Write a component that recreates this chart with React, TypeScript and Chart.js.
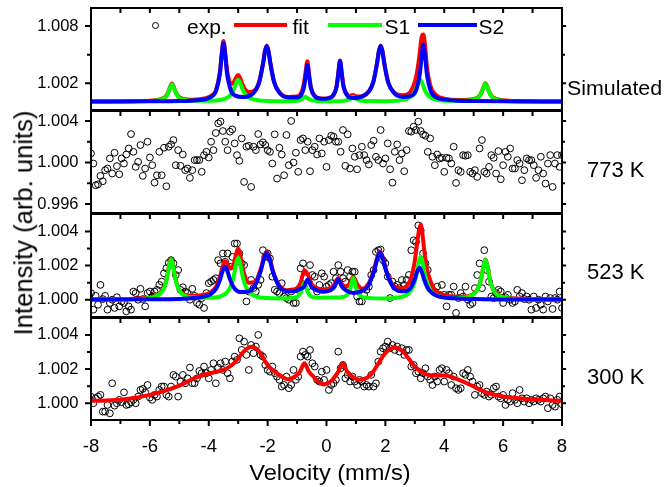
import React, { useEffect, useRef } from 'react';
import { Chart, registerables } from 'chart.js';

Chart.register(...registerables);

const FONT = '"Liberation Sans", Arial, Helvetica, sans-serif';

// Velocity channels (mm/s) shared by the three measured spectra
const velocity = [
  -8, -7.92, -7.84, -7.76, -7.68, -7.6, -7.52, -7.44, -7.36, -7.28,
  -7.2, -7.12, -7.04, -6.96, -6.88, -6.8, -6.72, -6.64, -6.56, -6.48,
  -6.4, -6.32, -6.24, -6.16, -6.08, -6, -5.92, -5.84, -5.76, -5.68,
  -5.6, -5.52, -5.44, -5.36, -5.28, -5.2, -5.12, -5.04, -4.96, -4.88,
  -4.8, -4.72, -4.64, -4.56, -4.48, -4.4, -4.32, -4.24, -4.16, -4.08,
  -4, -3.92, -3.84, -3.76, -3.68, -3.6, -3.52, -3.44, -3.36, -3.28,
  -3.2, -3.12, -3.04, -2.96, -2.88, -2.8, -2.72, -2.64, -2.56, -2.48,
  -2.4, -2.32, -2.24, -2.16, -2.08, -2, -1.92, -1.84, -1.76, -1.68,
  -1.6, -1.52, -1.44, -1.36, -1.28, -1.2, -1.12, -1.04, -0.96, -0.88,
  -0.8, -0.72, -0.64, -0.56, -0.48, -0.4, -0.32, -0.24, -0.16, -0.08,
  0, 0.08, 0.16, 0.24, 0.32, 0.4, 0.48, 0.56, 0.64, 0.72,
  0.8, 0.88, 0.96, 1.04, 1.12, 1.2, 1.28, 1.36, 1.44, 1.52,
  1.6, 1.68, 1.76, 1.84, 1.92, 2, 2.08, 2.16, 2.24, 2.32,
  2.4, 2.48, 2.56, 2.64, 2.72, 2.8, 2.88, 2.96, 3.04, 3.12,
  3.2, 3.28, 3.36, 3.44, 3.52, 3.6, 3.68, 3.76, 3.84, 3.92,
  4, 4.08, 4.16, 4.24, 4.32, 4.4, 4.48, 4.56, 4.64, 4.72,
  4.8, 4.88, 4.96, 5.04, 5.12, 5.2, 5.28, 5.36, 5.44, 5.52,
  5.6, 5.68, 5.76, 5.84, 5.92, 6, 6.08, 6.16, 6.24, 6.32,
  6.4, 6.48, 6.56, 6.64, 6.72, 6.8, 6.88, 6.96, 7.04, 7.12,
  7.2, 7.28, 7.36, 7.44, 7.52, 7.6, 7.68, 7.76, 7.84, 7.92,
  8,
];

// Measured intensities, given as (I - 1) x 1000
const exp773 = [
  0.87, -0.10, -2.19, -2.10, -1.29, -1.81, -0.74, -0.58, 0.39, -1.06,
  0.94, -0.35, -1.13, 0.39, -0.10, 0.77, 1.35, 2.74, 1.03, -0.42,
  0.06, 1.68, -1.29, -0.58, 2.00, 0.48, -0.26, -1.94, -1.23, 1.03,
  -1.23, 1.42, -2.29, 1.52, 1.74, 2.16, -0.26, 1.19, -0.32, 0.77,
  -0.74, -0.58, -1.48, -0.74, 0.23, 0.23, 0.23, -0.90, 0.71, 1.03,
  0.48, 2.00, 1.19, 2.84, 3.77, 3.94, 3.03, 2.00, 1.19, 2.97,
  3.19, 1.84, 0.71, 0.16, 2.32, -1.87, 1.52, 1.61, -2.35, 1.52,
  1.19, 2.74, 1.74, 1.94, 1.68, 1.19, 1.03, -0.10, 2.71, -1.55,
  1.42, 0.77, -1.23, 2.65, -0.26, 4.00, 0.00, 0.94, -0.90, 2.16,
  2.32, 1.19, 2.00, -0.84, 1.19, 1.52, 0.77, 2.32, 0.87, 2.00,
  -0.42, 2.16, 2.58, 2.48, 2.00, 2.00, 1.03, 3.13, -0.32, 2.71,
  -0.58, 1.35, 0.55, -0.65, 0.71, 1.52, 0.71, 0.23, -0.19, 1.68,
  2.10, 0.55, 0.23, 3.13, -0.10, 0.39, 1.84, -0.65, -1.94, 1.03,
  1.74, 0.23, 0.87, -0.84, 1.19, 3.03, 2.97, 3.45, 3.13, 3.94,
  3.03, 2.71, 2.58, 1.03, 2.32, 0.55, -0.26, 0.77, 0.39, 0.45,
  -0.90, 0.45, 0.39, -0.10, 1.52, -1.97, -0.74, -0.90, 0.71, 0.65,
  0.71, -0.90, -1.06, -0.74, -1.39, 1.35, 2.16, -0.90, -1.06, -0.42,
  0.71, 0.45, -1.06, 1.10, -1.61, -0.26, 1.03, 0.55, 1.35, -0.58,
  -0.58, 0.23, -0.10, -1.71, -0.74, 0.39, 0.23, 0.23, -0.26, -1.48,
  -0.74, 0.55, -1.06, -2.03, -0.10, 0.71, -2.35, -0.10, 0.71, -0.42,
  0.71,
];

const exp523 = [
  0.39, -0.58, 0.23, -0.29, 0.87, 0.04, 0.23, -0.58, -0.19, 0.00,
  -0.48, 0.15, -0.39, -0.10, -0.19, -0.68, -0.39, -0.58, 0.48, 0.39,
  0.00, 0.64, 0.04, -0.39, 0.39, 0.48, 0.19, 0.48, 0.58, 0.87,
  1.06, 1.55, 1.84, 2.16, 2.32, 2.13, 1.45, 1.74, 0.58, 0.73,
  0.48, 0.39, 0.00, 0.64, 0.23, -0.19, -0.29, 0.10, -0.48, 0.39,
  0.97, 1.06, 1.16, 1.26, 2.32, 2.13, 2.71, 2.22, 2.71, 1.93,
  2.51, 3.29, 3.29, 2.71, 2.13, 2.03, -0.10, 0.48, 1.16, 0.68,
  0.48, 0.87, 1.16, 2.90, 2.51, 2.71, 2.42, 1.35, 0.58, 0.48,
  0.39, 0.97, 0.19, 0.10, 0.00, 0.48, -0.19, -0.19, 0.58, 1.84,
  2.13, 1.26, 0.77, 2.03, 1.45, 1.35, 0.48, 0.87, 1.55, 1.35,
  0.77, 0.87, 0.97, 1.64, 1.26, 2.03, 1.64, 1.26, 1.06, 1.74,
  1.35, 1.64, 1.64, 0.19, -0.10, -0.10, 0.29, 0.58, 0.77, 1.45,
  1.74, 2.80, 2.90, 2.94, 2.32, 2.13, 1.35, 0.10, 1.06, 0.77,
  0.87, 0.68, 1.16, 0.87, 1.16, 1.45, 2.90, 3.48, 3.38, 4.35,
  4.06, 2.71, 2.13, 1.74, 0.68, 0.58, 0.48, 0.77, 0.29, 0.87,
  0.29, -0.39, 0.29, 0.29, 0.77, -0.77, 0.10, 0.39, 0.19, 0.77,
  0.00, -0.29, -0.19, 0.68, 1.45, 2.13, 0.68, 2.90, 1.74, 1.06,
  0.19, 0.10, 0.39, 0.58, 0.48, -0.19, 0.15, 0.29, 0.00, -0.19,
  -0.10, 0.58, 0.19, 0.39, 0.04, 0.19, 0.00, -0.58, 0.19, -0.48,
  0.00, -0.29, -0.58, 0.19, -0.10, 0.10, -0.54, 0.10, 0.00, 0.48,
  -0.48,
];

const exp300 = [
  0.39, 0.00, 0.29, 0.39, 0.49, -0.49, -0.49, -0.10, -0.59, 1.17,
  -0.14, 0.00, 0.20, 0.06, 0.64, -0.10, -0.06, 0.06, 0.20, 0.00,
  0.39, 0.78, 0.84, 0.64, 1.07, 0.33, 0.20, 0.49, 0.39, 0.78,
  0.98, 0.98, 0.49, 0.39, 0.98, 1.66, 1.56, 0.39, 1.27, 1.66,
  1.17, 1.46, 2.09, 1.17, 1.17, 1.46, 1.89, 1.76, 2.15, 1.76,
  1.46, 1.95, 2.34, 1.17, 2.09, 2.34, 1.95, 2.44, 1.76, 1.46,
  2.44, 2.73, 2.54, 3.80, 3.12, 3.61, 2.83, 1.95, 3.41, 2.93,
  3.32, 4.00, 2.83, 2.73, 2.24, 1.95, 1.85, 2.15, 1.76, 1.56,
  1.37, 0.98, 1.07, 1.56, 0.88, 1.07, 1.95, 1.37, 1.56, 2.73,
  3.02, 2.83, 2.73, 3.12, 2.34, 2.15, 1.37, 1.27, 1.85, 1.37,
  1.95, 0.78, 1.07, 1.17, 1.37, 3.02, 2.05, 2.24, 1.46, 1.66,
  1.27, 1.56, 1.27, 1.07, 1.37, 1.27, 0.98, 1.07, 0.98, 1.66,
  0.98, 1.17, 2.44, 3.02, 3.22, 3.32, 3.61, 3.22, 3.41, 3.12,
  3.32, 3.02, 3.22, 2.83, 3.12, 3.12, 2.15, 2.24, 1.76, 1.85,
  1.46, 1.76, 2.05, 1.56, 1.37, 1.07, 1.56, 1.27, 1.95, 2.05,
  1.27, 1.95, 1.76, 1.07, 1.56, 0.88, 0.78, 0.88, 1.76, 1.66,
  1.95, 1.56, 1.27, 0.49, 0.98, 1.07, 0.59, 0.49, 0.68, 0.39,
  0.49, 0.88, 0.98, 0.39, 0.29, 0.49, -0.10, 0.20, 0.10, 0.59,
  0.20, 0.00, 0.78, 0.29, 0.10, 0.29, 0.00, 0.20, 0.10, 0.29,
  0.20, 0.10, 0.29, 0.39, -0.29, 0.29, -0.10, -0.20, 0.20, 0.39,
  -0.06,
];

// Curves: [velocity, (I - 1) x 1000]
const simFit = [
  [-8, 0.10], [-6.5, 0.13], [-5.9, 0.20], [-5.6, 0.36], [-5.45, 0.68], [-5.37, 1.12], [-5.31, 1.65], [-5.25, 1.97],
  [-5.19, 1.64], [-5.13, 1.14], [-5.05, 0.70], [-4.9, 0.40], [-4.6, 0.29], [-4.1, 0.43], [-3.85, 0.83], [-3.75, 1.32],
  [-3.62, 3.21], [-3.56, 5.09], [-3.5, 6.42], [-3.44, 5.21], [-3.38, 3.44], [-3.25, 1.99], [-3.2, 1.96], [-3.12, 2.28],
  [-3.06, 2.68], [-3.0, 2.87], [-2.94, 2.60], [-2.88, 2.09], [-2.8, 1.52], [-2.65, 1.10], [-2.5, 1.15], [-2.3, 2.06],
  [-2.15, 4.22], [-2.09, 5.41], [-2.03, 5.96], [-1.97, 5.40], [-1.91, 4.20], [-1.78, 2.16], [-1.6, 1.06], [-1.3, 0.57],
  [-1.0, 0.61], [-0.85, 1.08], [-0.77, 1.94], [-0.71, 3.21], [-0.65, 4.31], [-0.59, 2.93], [-0.53, 1.62], [-0.4, 0.71],
  [-0.2, 0.42], [-0.05, 0.39], [0.1, 0.50], [0.21, 0.69], [0.34, 1.64], [0.40, 3.02], [0.46, 4.39], [0.52, 3.03],
  [0.58, 1.70], [0.71, 0.80], [0.78, 0.68], [0.9, 0.78], [1.02, 0.62], [1.2, 0.66], [1.45, 1.21], [1.59, 2.16],
  [1.72, 4.18], [1.78, 5.38], [1.84, 5.95], [1.90, 5.39], [1.96, 4.19], [2.09, 2.19], [2.3, 1.04], [2.6, 0.75],
  [2.85, 1.10], [3.04, 2.60], [3.12, 4.04], [3.17, 5.27], [3.23, 6.80], [3.29, 7.10], [3.35, 5.89], [3.41, 3.77],
  [3.54, 1.63], [3.75, 0.70], [4.0, 0.40], [4.5, 0.25], [5.0, 0.34], [5.2, 0.70], [5.28, 1.15], [5.34, 1.67],
  [5.4, 2.00], [5.46, 1.67], [5.52, 1.15], [5.6, 0.70], [5.75, 0.37], [6.1, 0.19], [6.8, 0.12], [8, 0.10],
];

const simS1 = [
  [-8, 0.09], [-6.5, 0.11], [-5.9, 0.16], [-5.6, 0.31], [-5.45, 0.63], [-5.37, 1.07], [-5.31, 1.59], [-5.25, 1.91],
  [-5.19, 1.59], [-5.13, 1.08], [-5.05, 0.63], [-4.9, 0.32], [-4.6, 0.18], [-4.0, 0.17], [-3.6, 0.26], [-3.35, 0.52],
  [-3.2, 1.04], [-3.12, 1.60], [-3.06, 2.10], [-3.0, 2.36], [-2.94, 2.10], [-2.88, 1.60], [-2.8, 1.04], [-2.65, 0.52],
  [-2.4, 0.26], [-2.0, 0.15], [-1.4, 0.13], [-1.0, 0.18], [-0.84, 0.34], [-0.72, 0.60], [-0.6, 0.35], [-0.4, 0.16],
  [0.1, 0.12], [0.6, 0.16], [0.78, 0.34], [0.9, 0.59], [1.02, 0.34], [1.3, 0.14], [2.0, 0.13], [2.6, 0.26],
  [2.83, 0.52], [2.98, 1.04], [3.06, 1.60], [3.12, 2.10], [3.18, 2.36], [3.24, 2.10], [3.30, 1.60], [3.38, 1.04],
  [3.53, 0.52], [3.8, 0.25], [4.4, 0.16], [4.8, 0.19], [5.1, 0.39], [5.2, 0.65], [5.28, 1.10], [5.34, 1.62],
  [5.4, 1.95], [5.46, 1.62], [5.52, 1.10], [5.6, 0.65], [5.75, 0.32], [6.1, 0.15], [6.8, 0.10], [8, 0.09],
];

const simS2 = [
  [-8, 0.09], [-6, 0.11], [-5, 0.14], [-4.5, 0.20], [-4.1, 0.35], [-3.85, 0.73], [-3.75, 1.20], [-3.62, 3.04],
  [-3.56, 4.89], [-3.5, 6.18], [-3.44, 4.91], [-3.38, 3.06], [-3.25, 1.27], [-3.1, 0.71], [-2.8, 0.56], [-2.5, 0.91],
  [-2.3, 1.93], [-2.15, 4.13], [-2.09, 5.33], [-2.03, 5.89], [-1.97, 5.33], [-1.91, 4.13], [-1.78, 2.11], [-1.6, 1.01],
  [-1.3, 0.52], [-1.0, 0.51], [-0.85, 0.84], [-0.77, 1.49], [-0.71, 2.70], [-0.65, 3.93], [-0.59, 2.69], [-0.53, 1.47],
  [-0.4, 0.63], [-0.2, 0.39], [-0.05, 0.37], [0.1, 0.46], [0.21, 0.66], [0.34, 1.60], [0.40, 2.97], [0.46, 4.34],
  [0.52, 2.97], [0.58, 1.62], [0.71, 0.70], [0.9, 0.45], [1.2, 0.60], [1.45, 1.17], [1.59, 2.12], [1.72, 4.14],
  [1.78, 5.34], [1.84, 5.91], [1.90, 5.34], [1.96, 4.14], [2.09, 2.13], [2.3, 0.96], [2.6, 0.57], [2.85, 0.66],
  [3.04, 1.25], [3.17, 3.00], [3.23, 4.77], [3.29, 6.01], [3.35, 4.76], [3.41, 2.97], [3.54, 1.19], [3.75, 0.50],
  [4.0, 0.29], [4.5, 0.17], [5.0, 0.14], [6, 0.11], [8, 0.09],
];

const fit523 = [
  [-8, 0.02], [-6.5, 0.06], [-5.9, 0.18], [-5.6, 0.48], [-5.48, 0.90], [-5.4, 1.49], [-5.34, 2.08], [-5.28, 2.42],
  [-5.22, 2.09], [-5.16, 1.50], [-5.08, 0.92], [-4.96, 0.49], [-4.6, 0.23], [-4.1, 0.31], [-3.95, 0.42], [-3.75, 0.78],
  [-3.61, 1.41], [-3.53, 1.93], [-3.45, 2.25], [-3.37, 2.14], [-3.29, 1.89], [-3.2, 1.89], [-3.12, 2.29], [-3.06, 2.74],
  [-3.0, 2.98], [-2.94, 2.72], [-2.88, 2.15], [-2.8, 1.55], [-2.65, 1.00], [-2.43, 1.05], [-2.23, 1.82], [-2.13, 2.47],
  [-2.03, 2.82], [-1.93, 2.44], [-1.83, 1.75], [-1.63, 0.90], [-1.35, 0.55], [-1.1, 0.60], [-0.95, 0.78], [-0.87, 1.05],
  [-0.81, 1.45], [-0.75, 1.72], [-0.69, 1.62], [-0.63, 1.45], [-0.57, 1.20], [-0.5, 0.90], [-0.38, 0.72], [-0.12, 0.60],
  [0.14, 0.68], [0.28, 0.92], [0.34, 1.15], [0.40, 1.28], [0.46, 1.12], [0.52, 0.92], [0.66, 0.75], [0.79, 0.95],
  [0.85, 1.20], [0.91, 1.33], [0.97, 1.20], [1.03, 0.95], [1.22, 0.65], [1.42, 0.92], [1.62, 1.80], [1.72, 2.45],
  [1.82, 2.82], [1.92, 2.45], [2.02, 1.78], [2.22, 0.95], [2.5, 0.66], [2.7, 0.77], [2.86, 1.20], [3.0, 2.28],
  [3.08, 3.32], [3.14, 4.05], [3.2, 4.40], [3.26, 3.85], [3.32, 2.90], [3.4, 1.90], [3.55, 1.02], [3.66, 0.62],
  [3.8, 0.42], [3.96, 0.30], [4.4, 0.17], [4.8, 0.20], [5.08, 0.49], [5.2, 0.89], [5.28, 1.47], [5.34, 2.03],
  [5.4, 2.36], [5.46, 2.03], [5.52, 1.45], [5.6, 0.87], [5.72, 0.45], [6.1, 0.13], [6.8, 0.05], [8, 0.02],
];

const s1_523 = [
  [-8, 0.01], [-6.5, 0.04], [-5.9, 0.14], [-5.6, 0.44], [-5.48, 0.86], [-5.4, 1.45], [-5.34, 2.04], [-5.28, 2.37],
  [-5.22, 2.04], [-5.16, 1.45], [-5.08, 0.87], [-4.96, 0.44], [-4.6, 0.14], [-4.0, 0.11], [-3.6, 0.20], [-3.35, 0.49],
  [-3.2, 1.04], [-3.12, 1.64], [-3.06, 2.19], [-3.0, 2.46], [-2.94, 2.19], [-2.88, 1.64], [-2.8, 1.04], [-2.65, 0.49],
  [-2.4, 0.20], [-2.0, 0.10], [-1.4, 0.08], [-1.0, 0.17], [-0.87, 0.43], [-0.81, 0.74], [-0.75, 0.99], [-0.69, 0.74],
  [-0.63, 0.43], [-0.5, 0.17], [-0.2, 0.12], [0.2, 0.13], [0.5, 0.15], [0.66, 0.22], [0.79, 0.55], [0.85, 0.95],
  [0.91, 1.27], [0.97, 0.95], [1.03, 0.55], [1.16, 0.22], [1.4, 0.11], [2.0, 0.08], [2.6, 0.19], [2.85, 0.49],
  [3.0, 1.06], [3.08, 1.68], [3.14, 2.23], [3.2, 2.51], [3.26, 2.23], [3.32, 1.68], [3.4, 1.06], [3.55, 0.51],
  [3.8, 0.21], [4.4, 0.10], [4.8, 0.17], [5.08, 0.46], [5.2, 0.88], [5.28, 1.46], [5.34, 2.02], [5.4, 2.34],
  [5.46, 2.01], [5.52, 1.43], [5.6, 0.85], [5.72, 0.43], [6.1, 0.11], [6.8, 0.03], [8, 0.01],
];

const s2_523 = [
  [-8, 0.01], [-6, 0.03], [-5, 0.05], [-4.5, 0.10], [-4.1, 0.21], [-3.95, 0.31], [-3.75, 0.64], [-3.61, 1.21],
  [-3.53, 1.68], [-3.45, 1.93], [-3.37, 1.70], [-3.29, 1.25], [-3.15, 0.72], [-2.95, 0.46], [-2.7, 0.47], [-2.43, 0.84],
  [-2.23, 1.70], [-2.13, 2.37], [-2.03, 2.74], [-1.93, 2.37], [-1.83, 1.69], [-1.63, 0.85], [-1.35, 0.50], [-1.1, 0.50],
  [-0.9, 0.62], [-0.76, 0.78], [-0.70, 1.02], [-0.64, 1.18], [-0.58, 1.02], [-0.52, 0.78], [-0.38, 0.58], [-0.12, 0.47],
  [0.14, 0.56], [0.28, 0.78], [0.34, 1.02], [0.40, 1.20], [0.46, 1.02], [0.52, 0.78], [0.66, 0.55], [0.91, 0.40],
  [1.22, 0.52], [1.42, 0.82], [1.62, 1.70], [1.72, 2.36], [1.82, 2.76], [1.92, 2.37], [2.02, 1.70], [2.22, 0.86],
  [2.5, 0.50], [2.7, 0.51], [2.86, 0.71], [3.0, 1.22], [3.08, 1.64], [3.16, 1.87], [3.24, 1.62], [3.32, 1.17],
  [3.46, 0.62], [3.66, 0.30], [3.96, 0.15], [4.5, 0.07], [5.0, 0.04], [6, 0.02], [8, 0.01],
];

const fit300 = [
  [-8, 0.14], [-7, 0.20], [-6, 0.49], [-5, 1.03], [-4.5, 1.46], [-4, 1.74], [-3.5, 1.95], [-3.2, 2.25],
  [-3, 2.63], [-2.8, 3.05], [-2.55, 3.30], [-2.3, 3.05], [-2, 2.24], [-1.6, 1.66], [-1.3, 1.40], [-1.0, 1.66],
  [-0.9, 1.85], [-0.75, 2.34], [-0.6, 1.85], [-0.5, 1.66], [-0.1, 1.10], [0.2, 1.37], [0.4, 1.85], [0.55, 2.34],
  [0.7, 1.85], [0.85, 1.60], [1.1, 1.37], [1.5, 1.66], [1.8, 2.44], [2.0, 2.93], [2.3, 3.26], [2.6, 3.02],
  [3.0, 2.15], [3.3, 1.76], [3.6, 1.62], [4.0, 1.62], [4.5, 1.37], [5.0, 0.98], [5.5, 0.59], [6.0, 0.39],
  [7.0, 0.23], [8.0, 0.14],
];

// Axis ticks (intensity)
const simMajor = [1.002, 1.008];
const simMinor = [1.005];
const k773Major = [0.996, 1.0, 1.004];
const k773Minor = [0.998, 1.002];
const k523Major = [1.0, 1.002, 1.004];
const k523Minor = [1.001, 1.003];
const k300Major = [1.0, 1.002, 1.004];
const k300Minor = [1.001, 1.003];
const xTickValues = [-8, -6, -4, -2, 0, 2, 4, 6, 8];

const RED = '#ff0000';
const GREEN = '#00ff00';
const BLUE = '#0000ff';

const toI = (d: number) => 1 + d / 1000;

function curve(pts: number[][], color: string, order: number) {
  return {
    type: 'line',
    data: pts.map(([x, d]) => ({ x, y: toI(d) })),
    borderColor: color,
    backgroundColor: color,
    borderWidth: 4,
    pointRadius: 0,
    fill: false,
    showLine: true,
    cubicInterpolationMode: 'monotone',
    clip: 0,
    order,
  };
}

function scatter(vals: number[]) {
  const n = Math.min(vals.length, velocity.length);
  const data = [];
  for (let i = 0; i < n; i++) data.push({ x: velocity[i], y: toI(vals[i]) });
  return {
    type: 'scatter',
    data,
    pointRadius: 3.4,
    pointBorderWidth: 1,
    borderWidth: 1,
    pointBorderColor: '#000',
    borderColor: '#000',
    pointBackgroundColor: 'rgba(0,0,0,0)',
    backgroundColor: 'rgba(0,0,0,0)',
    showLine: false,
    clip: 0,
    order: 10,
  };
}

type Spec = {
  key: string;
  top: number;
  bottom: number;
  yMin: number;
  yMax: number;
  major: number[];
  minor: number[];
  showX: boolean;
  datasets: any[];
};

const specs: Spec[] = [
  {
    key: 'sim', top: 8, bottom: 110, yMin: 0.999204, yMax: 1.009885,
    major: simMajor, minor: simMinor, showX: false,
    datasets: [curve(simS2, BLUE, 1), curve(simS1, GREEN, 2), curve(simFit, RED, 3)],
  },
  {
    key: 'k773', top: 111, bottom: 213, yMin: 0.995135, yMax: 1.00496,
    major: k773Major, minor: k773Minor, showX: false,
    datasets: [scatter(exp773)],
  },
  {
    key: 'k523', top: 214, bottom: 317, yMin: 0.99899, yMax: 1.00502,
    major: k523Major, minor: k523Minor, showX: false,
    datasets: [curve(s2_523, BLUE, 1), curve(s1_523, GREEN, 2), curve(fit523, RED, 3), scatter(exp523)],
  },
  {
    key: 'k300', top: 318, bottom: 420, yMin: 0.99902, yMax: 1.00499,
    major: k300Major, minor: k300Minor, showX: true,
    datasets: [curve(fit300, RED, 3), scatter(exp300)],
  },
];

function Panel({ spec }: { spec: Spec }) {
  const ref = useRef<HTMLCanvasElement | null>(null);
  const pad = 6;
  const canvasTop = spec.top - pad;
  const h = spec.showX ? 487 - canvasTop : spec.bottom - spec.top + 2 * pad;

  useEffect(() => {
    const canvas = ref.current;
    if (!canvas) return;
    const frame = {
      id: 'frame_' + spec.key,
      afterDraw(chart: any) {
        const { ctx, chartArea: a, scales } = chart;
        const ys = scales.y;
        const xs = scales.x;
        ctx.save();
        ctx.strokeStyle = '#000';
        ctx.lineWidth = 2;
        ctx.lineCap = 'butt';
        ctx.beginPath();
        ctx.rect(a.left, a.top, a.right - a.left, a.bottom - a.top);
        ctx.stroke();
        ctx.beginPath();
        for (const v of spec.major) {
          const y = ys.getPixelForValue(v);
          ctx.moveTo(a.left - 6, y); ctx.lineTo(a.left, y);
          ctx.moveTo(a.right, y); ctx.lineTo(a.right + 4, y);
        }
        for (const v of spec.minor) {
          const y = ys.getPixelForValue(v);
          ctx.moveTo(a.left - 4, y); ctx.lineTo(a.left, y);
          ctx.moveTo(a.right, y); ctx.lineTo(a.right + 3, y);
        }
        for (let v = -7; v <= 7; v++) {
          const x = xs.getPixelForValue(v);
          ctx.moveTo(x, a.top); ctx.lineTo(x, a.top + 5);
        }
        if (spec.showX) {
          for (let v = -8; v <= 8; v++) {
            const x = xs.getPixelForValue(v);
            const len = v % 2 === 0 ? 6 : 4;
            ctx.moveTo(x, a.bottom); ctx.lineTo(x, a.bottom + len);
          }
        }
        ctx.stroke();
        ctx.restore();
      },
    };
    const chart = new Chart(canvas, {
      type: 'scatter',
      data: { datasets: spec.datasets as any },
      options: {
        animation: false,
        responsive: false,
        events: [],
        layout: { padding: { left: 0, right: 102, top: pad, bottom: spec.showX ? 0 : pad } },
        plugins: { legend: { display: false }, tooltip: { enabled: false }, title: { display: false } },
        scales: {
          x: {
            type: 'linear',
            min: -8,
            max: 8,
            display: spec.showX,
            grid: { display: false, drawTicks: false },
            border: { display: false },
            ticks: {
              color: '#000',
              font: { family: FONT, size: 18.5 },
              padding: 16,
              maxRotation: 0,
              autoSkip: false,
              callback: (v: any) => String(v),
            },
            afterBuildTicks: (axis: any) => { axis.ticks = xTickValues.map((v) => ({ value: v })); },
            afterFit: (axis: any) => {
              axis.height = spec.showX ? 487 - spec.bottom : 0;
              axis.paddingLeft = 0;
              axis.paddingRight = 0;
            },
          },
          y: {
            type: 'linear',
            min: spec.yMin,
            max: spec.yMax,
            grid: { display: false, drawTicks: false },
            border: { display: false },
            ticks: {
              color: '#000',
              font: { family: FONT, size: 16.5 },
              padding: 12.5,
              callback: (v: any) => Number(v).toFixed(3),
            },
            afterBuildTicks: (axis: any) => { axis.ticks = spec.major.map((v) => ({ value: v })); },
            afterFit: (axis: any) => { axis.width = 91; axis.paddingTop = 0; axis.paddingBottom = 0; },
          },
        },
      } as any,
      plugins: [frame],
    });
    return () => chart.destroy();
  }, []);

  return (
    <canvas
      ref={ref}
      width={664}
      height={h}
      style={{ position: 'absolute', left: 0, top: canvasTop, width: 664, height: h }}
    />
  );
}

function Txt({ text, left, top, size, style }: { text: string; left: number; top: number; size: number; style?: React.CSSProperties }) {
  return (
    <div
      style={{
        position: 'absolute', left, top, fontSize: size, lineHeight: 1, fontFamily: FONT,
        color: '#000', whiteSpace: 'nowrap', ...style,
      }}
    >
      {text}
    </div>
  );
}

function Bar({ left, width, color }: { left: number; width: number; color: string }) {
  return <div style={{ position: 'absolute', left, top: 23, width, height: 4, background: color }} />;
}

export default function App() {
  return (
    <div style={{ position: 'fixed', left: 0, top: 0, width: 664, height: 487, background: '#fff', overflow: 'hidden' }}>
      {specs.map((s) => <Panel key={s.key} spec={s} />)}

      {/* legend */}
      <div style={{ position: 'absolute', left: 152.2, top: 22.2, width: 7, height: 7, boxSizing: 'border-box', border: '1px solid #000', borderRadius: '50%' }} />
      <Txt text="exp." left={187} top={15.5} size={21} />
      <Bar left={234} width={52.7} color={RED} />
      <Txt text="fit" left={292.5} top={15.5} size={21} />
      <Bar left={328.3} width={53.4} color={GREEN} />
      <Txt text="S1" left={384.5} top={15.5} size={21} />
      <Bar left={418.3} width={58.4} color={BLUE} />
      <Txt text="S2" left={478.5} top={15.5} size={21} />

      {/* panel labels */}
      <Txt text="Simulated" left={567} top={78.4} size={20} style={{ transform: 'scaleX(1.07)', transformOrigin: 'left center' }} />
      <Txt text="773 K" left={587} top={158.8} size={22} />
      <Txt text="523 K" left={587} top={260.5} size={22} />
      <Txt text="300 K" left={587} top={365.5} size={22} />

      {/* axis titles */}
      <Txt text="Intensity (arb. units)" left={24.4} top={222.5} size={25.6} style={{ transform: 'translate(-50%, -50%) rotate(-90deg)' }} />
      <Txt text="Velocity (mm/s)" left={330} top={462.1} size={22.5} style={{ transform: 'translateX(-50%) scaleX(1.05)' }} />
    </div>
  );
}
